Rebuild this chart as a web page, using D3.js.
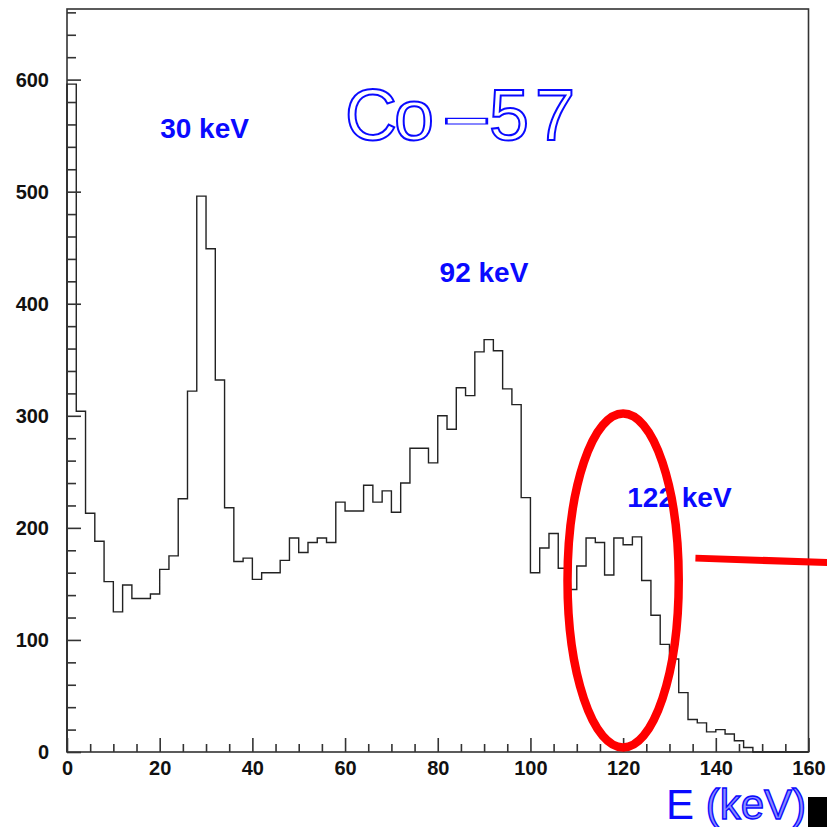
<!DOCTYPE html>
<html>
<head>
<meta charset="utf-8">
<script src="https://cdn.jsdelivr.net/npm/d3@7"></script>
<style>
  html, body { margin: 0; padding: 0; background: #fff; }
  svg { display: block; }
</style>
</head>
<body>
<svg id="chart" width="827" height="827"></svg>
<script>
// Co-57 energy spectrum, 2 keV bins from 0 to 160 keV
const binWidth = 2;
const energyRange = [0, 160];
const counts = [
  596, 304, 213, 188, 152, 125, 149, 137, 137, 141,
  163, 175, 226, 322, 496, 449, 332, 218, 170, 173,
  154, 160, 160, 171, 191, 178, 187, 191, 187, 223,
  215, 215, 238, 223, 233, 214, 240, 271, 271, 258,
  300, 288, 325, 318, 357, 368, 358, 324, 310, 227,
  160, 182, 195, 164, 145, 166, 191, 187, 158, 191,
  185, 192, 153, 122, 96, 83, 53, 29, 26, 18,
  20, 16, 10, 4, 0, 0, 0, 0, 0, 0
];
const countMax = 663;

const xMajorTicks = [0, 20, 40, 60, 80, 100, 120, 140, 160];
const xMinorTicks = [5, 10, 15, 25, 30, 35, 45, 50, 55, 65, 70, 75, 85, 90, 95,
                     105, 110, 115, 125, 130, 135, 145, 150, 155];
const yMajorTicks = [0, 100, 200, 300, 400, 500, 600];
const yMinorTicks = [20, 40, 60, 80, 120, 140, 160, 180, 220, 240, 260, 280,
                     320, 340, 360, 380, 420, 440, 460, 480, 520, 540, 560, 580,
                     620, 640, 660];

// Peak labels: [text, energy position (left edge), count position (baseline)]
const peakLabels = [
  ["30 keV", 20.1, 548],
  ["92 keV", 80.4, 419],
  ["122 keV", 120.9, 219]
];

// Highlight around the 122 keV peak: ellipse and pointer line (data units)
const highlight = { cx: 120, cy: 153, rx: 12, ry: 149 };
const pointer = [[135.6, 173], [164.2, 169]];

const svg = d3.select("#chart");
const plotL = 67, plotR = 808.5, plotT = 9, plotB = 752;

const x = d3.scaleLinear().domain(energyRange).range([plotL, plotR]);
const y = d3.scaleLinear().domain([0, countMax]).range([plotB, plotT]);

const blue = "#0a0aff";
const axisColor = "#333";

// Frame
svg.append("rect")
  .attr("x", plotL).attr("y", plotT)
  .attr("width", plotR - plotL).attr("height", plotB - plotT)
  .attr("fill", "none").attr("stroke", axisColor).attr("stroke-width", 1.6);

// Histogram outline
const pts = [];
counts.forEach((c, i) => {
  const e0 = energyRange[0] + i * binWidth;
  pts.push([e0, c], [e0 + binWidth, c]);
});
pts.unshift([energyRange[0], 0]);
pts.push([energyRange[1], 0]);
const line = d3.line().x(d => x(d[0])).y(d => y(d[1]));
svg.append("path")
  .attr("d", line(pts))
  .attr("fill", "none").attr("stroke", "#222").attr("stroke-width", 1.4)
  .attr("stroke-linejoin", "miter");

const tickFont = "'Liberation Sans', Arial, Helvetica, sans-serif";

// X axis: major and minor ticks pointing inward
const gx = svg.append("g").attr("transform", `translate(0,${plotB})`);
gx.call(d3.axisBottom(x).tickValues(xMajorTicks).tickSize(-14).tickPadding(9)
  .tickFormat(d3.format("d")));
gx.append("g").call(d3.axisBottom(x).tickValues(xMinorTicks).tickSize(-8).tickFormat(""));
gx.selectAll(".domain").remove();

// Y axis
const gy = svg.append("g").attr("transform", `translate(${plotL},0)`);
gy.call(d3.axisLeft(y).tickValues(yMajorTicks).tickSize(-14).tickPadding(18)
  .tickFormat(d3.format("d")));
gy.append("g").call(d3.axisLeft(y).tickValues(yMinorTicks).tickSize(-9).tickFormat(""));
gy.selectAll(".domain").remove();

svg.selectAll(".tick line").attr("stroke", axisColor).attr("stroke-width", 1.6);
svg.selectAll(".tick text")
  .attr("fill", "#111")
  .style("font-family", tickFont)
  .style("font-size", "20px")
  .style("font-weight", "bold");

// Title, outlined glyphs with a long dash
const title = svg.append("g")
  .style("font-family", tickFont)
  .style("font-size", "72px")
  .attr("fill", "#fff").attr("stroke", blue).attr("stroke-width", 2);
title.append("text").attr("x", 345).attr("y", 140)
  .style("letter-spacing", "-3px").text("Co");
title.append("text").attr("x", 0).attr("y", 0)
  .attr("transform", "translate(439,140) scale(2.3,1)")
  .attr("stroke-width", 1.2).text("-");
title.append("text").attr("x", 489).attr("y", 140)
  .style("letter-spacing", "6px").text("57");

// Peak labels
svg.selectAll("text.peak").data(peakLabels).enter().append("text")
  .attr("class", "peak")
  .attr("x", d => x(d[1])).attr("y", d => y(d[2]))
  .style("font-family", tickFont)
  .style("font-size", "28px").style("font-weight", "bold")
  .attr("fill", blue)
  .text(d => d[0]);

// Axis title
const xt = svg.append("text")
  .attr("x", 666).attr("y", 819)
  .style("font-family", tickFont)
  .style("font-size", "42px");
xt.append("tspan").attr("fill", blue).text("E");
xt.append("tspan").attr("fill", "#8c8cff").attr("stroke", blue).attr("stroke-width", 1.4)
  .text(" (keV)");

// Small black marker at the bottom-right corner
svg.append("rect").attr("x", 808).attr("y", 797).attr("width", 19).attr("height", 30)
  .attr("fill", "#000");

// Highlight ellipse and pointer
svg.append("ellipse")
  .attr("cx", x(highlight.cx)).attr("cy", y(highlight.cy))
  .attr("rx", x(highlight.cx + highlight.rx) - x(highlight.cx))
  .attr("ry", y(highlight.cy - highlight.ry) - y(highlight.cy))
  .attr("fill", "none").attr("stroke", "#ff0000").attr("stroke-width", 8.5);
svg.append("path")
  .attr("d", line(pointer))
  .attr("fill", "none").attr("stroke", "#ff0000").attr("stroke-width", 7);
</script>
</body>
</html>
